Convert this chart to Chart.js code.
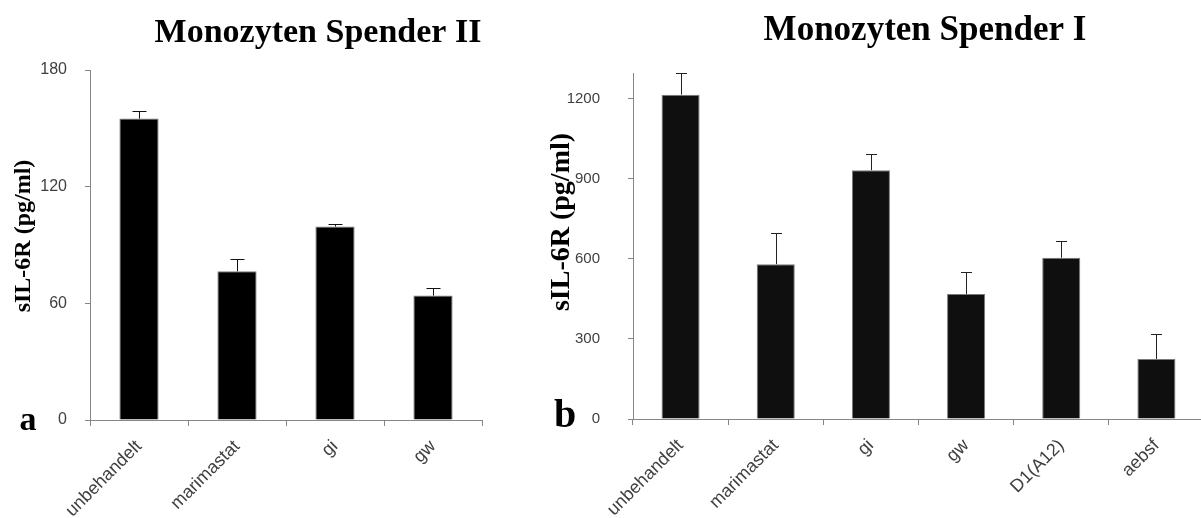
<!DOCTYPE html>
<html>
<head>
<meta charset="utf-8">
<script src="https://cdn.jsdelivr.net/npm/chart.js@4.4.1/dist/chart.umd.min.js"></script>
<style>
  * { margin: 0; padding: 0; box-sizing: border-box; }
  body { background: #fff; width: 1201px; height: 518px; overflow: hidden; position: relative; }
  canvas { position: absolute; top: 0; }
  #chartII { left: 0; }
  #chartI { left: 540px; }
</style>
</head>
<body>
<canvas id="chartII" width="540" height="518"></canvas>
<canvas id="chartI" width="670" height="518"></canvas>
<script>
const SERIF = '"Liberation Serif", "DejaVu Serif", serif';
const SANS = '"Liberation Sans", Arial, sans-serif';

// Monozyten Spender II
const categoriesII = ['unbehandelt', 'marimastat', 'gi', 'gw'];
const valuesII = [155, 76.5, 99.5, 64];
const errorsII = [4, 6.5, 1.5, 4];
const yTicksII = [0, 60, 120, 180];

// Monozyten Spender I
const categoriesI = ['unbehandelt', 'marimastat', 'gi', 'gw', 'D1(A12)', 'aebsf'];
const valuesI = [1215, 580, 932, 468, 604, 225];
const errorsI = [81, 118, 60, 81, 62, 92];
const yTicksI = [0, 300, 600, 900, 1200];

// one-sided (upper) error bars, drawn through the y scale
function errorBarPlugin(errors, color, cap) {
  return {
    id: 'errorBars',
    afterDatasetsDraw(chart) {
      const ctx = chart.ctx;
      const y = chart.scales.y;
      const vals = chart.data.datasets[0].data;
      ctx.save();
      ctx.strokeStyle = color;
      ctx.lineWidth = 1;
      chart.getDatasetMeta(0).data.forEach((bar, i) => {
        const top = Math.round(y.getPixelForValue(vals[i] + errors[i])) + 0.5;
        const x = Math.round(bar.x) + 0.5;
        ctx.beginPath();
        ctx.moveTo(x, bar.y);
        ctx.lineTo(x, top);
        ctx.moveTo(x - cap / 2, top);
        ctx.lineTo(x + cap / 2, top);
        ctx.stroke();
      });
      ctx.restore();
    }
  };
}

// titles, axis title and panel letter
function textPlugin(items) {
  return {
    id: 'freeText',
    afterDraw(chart) {
      const ctx = chart.ctx;
      items.forEach(t => {
        ctx.save();
        ctx.font = t.font;
        ctx.fillStyle = '#000';
        ctx.textAlign = 'center';
        ctx.textBaseline = t.baseline || 'alphabetic';
        ctx.translate(t.x, t.y);
        if (t.rotate) ctx.rotate(t.rotate);
        ctx.fillText(t.text, 0, 0);
        ctx.restore();
      });
    }
  };
}

function buildChart(id, labels, values, errors, yTicks, cfg) {
  return new Chart(document.getElementById(id), {
    type: 'bar',
    data: {
      labels: labels,
      datasets: [{
        data: values,
        backgroundColor: cfg.barColor,
        borderColor: '#7a7a7a',
        borderWidth: 1,
        barPercentage: 0.4,
        categoryPercentage: 1
      }]
    },
    options: {
      responsive: false,
      animation: false,
      events: [],
      layout: { padding: cfg.padding },
      plugins: {
        legend: { display: false },
        tooltip: { enabled: false },
        title: { display: false }
      },
      scales: {
        x: {
          grid: { drawOnChartArea: false, color: '#868686', tickLength: 6, offset: true },
          border: { color: '#868686' },
          ticks: {
            autoSkip: false, minRotation: 45, maxRotation: 45,
            padding: cfg.xPad, color: '#404040',
            font: { family: SANS, size: cfg.xFont }
          },
          afterFit: s => { s.height = cfg.xHeight; }
        },
        y: {
          min: 0,
          max: cfg.yMax,
          grid: { drawOnChartArea: false, color: '#868686', tickLength: 5 },
          border: { color: '#868686' },
          afterBuildTicks: s => { s.ticks = yTicks.map(v => ({ value: v })); },
          ticks: {
            padding: cfg.yPad, color: '#404040',
            font: { family: SANS, size: cfg.yFont },
            callback: v => String(v)
          },
          afterFit: s => { s.width = cfg.yWidth; }
        }
      }
    },
    plugins: [errorBarPlugin(errors, cfg.errColor, cfg.cap), textPlugin(cfg.texts)]
  });
}

buildChart('chartII', categoriesII, valuesII, errorsII, yTicksII, {
  barColor: '#000000', errColor: '#111111', cap: 14,
  padding: { left: 0, right: 58, top: 70, bottom: 0 },
  yWidth: 90, xHeight: 98, yMax: 180,
  xPad: 10, xFont: 18, yPad: 18, yFont: 16,
  texts: [
    { text: 'Monozyten Spender II', x: 318, y: 42, font: 'bold 34px ' + SERIF },
    { text: 'sIL-6R (pg/ml)', x: 24, y: 236, rotate: -Math.PI / 2, baseline: 'middle', font: 'bold 24px ' + SERIF },
    { text: 'a', x: 28, y: 430, font: 'bold 34px ' + SERIF }
  ]
});

buildChart('chartI', categoriesI, valuesI, errorsI, yTicksI, {
  barColor: '#0f0f0f', errColor: '#222222', cap: 11,
  padding: { left: 0, right: 6, top: 73, bottom: 0 },
  yWidth: 93, xHeight: 99, yMax: 1296,
  xPad: 10, xFont: 18, yPad: 28, yFont: 15,
  texts: [
    { text: 'Monozyten Spender I', x: 385, y: 40, font: 'bold 35px ' + SERIF },
    { text: 'sIL-6R (pg/ml)', x: 22, y: 222, rotate: -Math.PI / 2, baseline: 'middle', font: 'bold 28px ' + SERIF },
    { text: 'b', x: 25, y: 427, font: 'bold 40px ' + SERIF }
  ]
});
</script>
</body>
</html>
